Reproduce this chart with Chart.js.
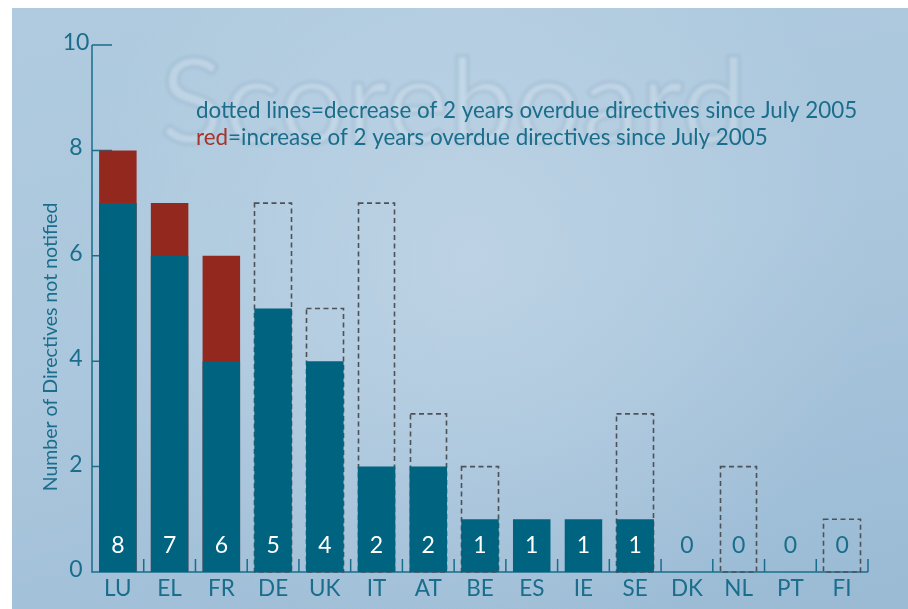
<!DOCTYPE html>
<html>
<head>
<meta charset="utf-8">
<script src="https://cdn.jsdelivr.net/npm/chart.js@4.4.1/dist/chart.umd.min.js"></script>
<style>
  html, body { margin: 0; padding: 0; background: #fff; overflow: hidden; }
  canvas { display: block; }
</style>
</head>
<body>
<canvas id="chart" width="908" height="609"></canvas>
<script>
// Member states and the number of directives not yet notified
const countries = ['LU', 'EL', 'FR', 'DE', 'UK', 'IT', 'AT', 'BE', 'ES', 'IE', 'SE', 'DK', 'NL', 'PT', 'FI'];
const pendingNow = [8, 7, 6, 5, 4, 2, 2, 1, 1, 1, 1, 0, 0, 0, 0];
const pendingJuly2005 = [7, 6, 4, 7, 5, 7, 3, 2, 1, 1, 3, 0, 2, 0, 1];
const yTickValues = [0, 2, 4, 6, 8, 10];

const yAxisTitle = 'Number of Directives not notified';
const noteDotted = 'dotted lines=decrease of 2 years overdue directives since July 2005';
const noteRedWord = 'red';
const noteRedRest = '=increase of 2 years overdue directives since July 2005';

const TEAL = '#00637f';
const RED = '#93281f';
const INK = '#1a6e8c';
const DASH = '#4c5258';
const FONT = 'Lato, "Open Sans", sans-serif';

// Part of today's backlog that was already there in July 2005
const carriedOver = pendingNow.map((v, i) => Math.min(v, pendingJuly2005[i]));
// Full height of bars that grew since July 2005 (red shows above the teal part)
const grownTo = pendingNow.map((v, i) => (v > pendingJuly2005[i] ? v : null));
// July 2005 level for states whose backlog shrank (drawn as dashed outline)
const shrankFrom = pendingJuly2005.map((v, i) => (v > pendingNow[i] ? v : null));

const backdrop = {
  id: 'backdrop',
  beforeDraw(chart) {
    const { ctx, width, height } = chart;
    ctx.save();
    ctx.fillStyle = '#ffffff';
    ctx.fillRect(0, 0, width, height);
    const g = ctx.createLinearGradient(12, 8, 200, height + 150);
    g.addColorStop(0, '#b0cbdf');
    g.addColorStop(0.5, '#abc7dd');
    g.addColorStop(1, '#9bbbd5');
    ctx.fillStyle = g;
    ctx.fillRect(12, 8, width - 12, height - 8);
    const r = ctx.createRadialGradient(470, 260, 0, 470, 260, 400);
    r.addColorStop(0, 'rgba(200,218,233,0.6)');
    r.addColorStop(1, 'rgba(200,218,233,0)');
    ctx.fillStyle = r;
    ctx.fillRect(12, 8, width - 12, height - 8);
    // faint "Scoreboard" watermark
    ctx.filter = 'blur(1.5px)';
    ctx.font = '400 118px ' + FONT;
    ctx.textBaseline = 'alphabetic';
    ctx.textAlign = 'left';
    ctx.lineWidth = 3;
    ctx.strokeStyle = 'rgba(120,152,178,0.25)';
    ctx.fillStyle = 'rgba(222,234,244,0.3)';
    ctx.fillText('Scoreboard', 160, 143);
    ctx.strokeText('Scoreboard', 160, 143);
    ctx.filter = 'none';
    ctx.restore();
  }
};

const axes = {
  id: 'axes',
  beforeDatasetsDraw(chart) {
    const { ctx, scales: { x, y } } = chart;
    const y0 = y.getPixelForValue(0);
    const yTop = y.getPixelForValue(10);
    ctx.save();
    ctx.strokeStyle = INK;
    ctx.lineWidth = 1.5;
    ctx.beginPath();
    ctx.moveTo(x.left, yTop);
    ctx.lineTo(x.left, y0);
    ctx.lineTo(x.right, y0);
    yTickValues.forEach(v => {
      if (v === 0) return;
      const py = y.getPixelForValue(v);
      ctx.moveTo(x.left, py);
      ctx.lineTo(x.left + 20, py);
    });
    // short category boundary marks along the baseline
    const step = (x.right - x.left) / countries.length;
    for (let i = 1; i <= countries.length; i++) {
      const px = x.left + step * i;
      ctx.moveTo(px, y0);
      ctx.lineTo(px, y0 - 13);
    }
    ctx.stroke();
    ctx.restore();
  },
  afterDatasetDraw(chart, args) {
    if (args.index !== 2) return;
    const { ctx } = chart;
    ctx.save();
    ctx.strokeStyle = DASH;
    ctx.lineWidth = 1.6;
    ctx.setLineDash([5, 3.5]);
    args.meta.data.forEach((el, i) => {
      if (shrankFrom[i] === null) return;
      const p = el.getProps(['x', 'y', 'base', 'width'], true);
      const l = Math.round(p.x - p.width / 2) + 0.5;
      const rr = Math.round(p.x + p.width / 2) - 0.5;
      ctx.strokeRect(l, p.y, rr - l, p.base - p.y);
    });
    ctx.restore();
  },
  afterDatasetsDraw(chart) {
    const { ctx, scales: { x, y } } = chart;
    const y0 = y.getPixelForValue(0);
    ctx.save();
    ctx.textBaseline = 'alphabetic';
    ctx.textAlign = 'center';

    // y tick labels
    ctx.fillStyle = INK;
    ctx.font = '23px ' + FONT;
    yTickValues.forEach(v => {
      ctx.fillText(String(v), x.left - 16, y.getPixelForValue(v) + 5);
    });

    // category labels and totals
    countries.forEach((c, i) => {
      const px = x.getPixelForValue(i);
      ctx.fillStyle = INK;
      ctx.font = '22.5px ' + FONT;
      ctx.fillText(c, px, y0 + 24);
      ctx.fillStyle = pendingNow[i] > 0 ? '#ffffff' : INK;
      ctx.font = '23px ' + FONT;
      ctx.fillText(String(pendingNow[i]), px, y0 - 19);
    });

    // axis title
    ctx.save();
    ctx.translate(57, 347);
    ctx.rotate(-Math.PI / 2);
    ctx.fillStyle = INK;
    ctx.font = '19.5px ' + FONT;
    ctx.fillText(yAxisTitle, 0, 0);
    ctx.restore();

    // explanatory notes
    ctx.textAlign = 'left';
    ctx.font = '22.4px ' + FONT;
    ctx.fillStyle = INK;
    ctx.fillText(noteDotted, 196, 118);
    ctx.fillStyle = '#a8332b';
    ctx.fillText(noteRedWord, 196, 145);
    const w = ctx.measureText(noteRedWord).width;
    ctx.fillStyle = INK;
    ctx.fillText(noteRedRest, 196 + w, 145);
    ctx.restore();
  }
};

new Chart(document.getElementById('chart'), {
  type: 'bar',
  data: {
    labels: countries,
    datasets: [
      { label: 'Pending in July 2005 and now', data: carriedOver, backgroundColor: TEAL, stack: 'all' },
      { label: 'Increase since July 2005', data: grownTo, backgroundColor: RED, stack: 'all' },
      { label: 'July 2005 level', data: shrankFrom, backgroundColor: 'rgba(0,0,0,0)', borderWidth: 0, stack: 'all' }
    ]
  },
  options: {
    responsive: false,
    animation: false,
    devicePixelRatio: 1,
    layout: { padding: { left: 92, right: 40, top: 45, bottom: 37 } },
    datasets: { bar: { barPercentage: 0.725, categoryPercentage: 1 } },
    plugins: { legend: { display: false }, tooltip: { enabled: false } },
    scales: {
      x: { display: false, stacked: true },
      y: { display: false, stacked: false, min: 0, max: 10 }
    }
  },
  plugins: [backdrop, axes]
});
</script>
</body>
</html>
